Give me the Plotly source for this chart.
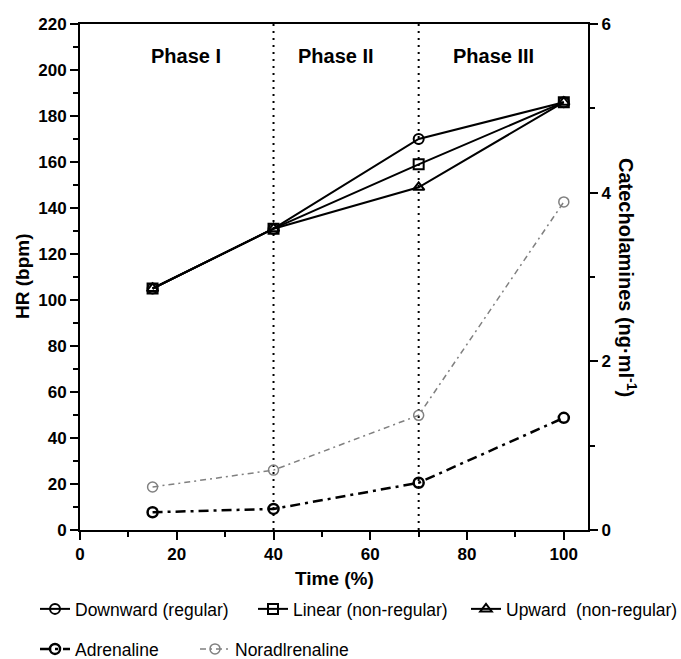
import plotly.graph_objects as go

# ---- data ----
time_pct = [15, 40, 70, 100]
hr_downward = [105, 131, 170, 186]
hr_linear = [105, 131, 159, 186]
hr_upward = [105, 131, 149, 186]
adrenaline = [0.21, 0.25, 0.56, 1.33]
noradrenaline = [0.51, 0.71, 1.36, 3.89]
phase_labels = ["Phase I", "Phase II", "Phase III"]
phase_x = [22, 53, 85.5]
phase_bounds = [40, 70]

FONT = "Liberation Sans, Arial, sans-serif"
W, H = 681, 659

fig = go.Figure()

hr_series = [
    ("Downward (regular)", hr_downward, "circle-open", "legend"),
    ("Linear (non-regular)", hr_linear, "square-open", "legend2"),
    ("Upward\u00a0 (non-regular)", hr_upward, "triangle-up-open", "legend3"),
]
for name, vals, sym, lg in hr_series:
    fig.add_trace(go.Scatter(
        x=time_pct, y=vals, name=name, mode="lines+markers", yaxis="y",
        line=dict(color="black", width=2),
        marker=dict(symbol=sym, size=10, color="black", line=dict(width=2, color="black")),
        legend=lg, showlegend=True,
    ))

fig.add_trace(go.Scatter(
    x=time_pct, y=adrenaline, name="Adrenaline", mode="lines+markers", yaxis="y2",
    line=dict(color="black", width=2.5, dash="10px,5px,3px,5px"),
    marker=dict(symbol="circle-open", size=10, color="black", line=dict(width=2.5, color="black")),
    legend="legend4", showlegend=True,
))
fig.add_trace(go.Scatter(
    x=time_pct, y=noradrenaline, name="Noradlrenaline", mode="lines+markers", yaxis="y2",
    line=dict(color="#808080", width=1.5, dash="6px,4px,2px,4px"),
    marker=dict(symbol="circle-open", size=10, color="#808080", line=dict(width=1.5, color="#808080")),
    legend="legend5", showlegend=True,
))

for b in phase_bounds:
    fig.add_shape(type="line", xref="x", yref="paper", x0=b, x1=b, y0=0, y1=1,
                  line=dict(color="black", width=2, dash="2px,5px"), layer="below")

for lbl, px in zip(phase_labels, phase_x):
    fig.add_annotation(x=px, y=206, xref="x", yref="y", text=lbl, showarrow=False,
                       font=dict(family=FONT, size=20, color="black", weight="bold"))

# axis titles
fig.add_annotation(xref="paper", yref="paper", x=0, y=0.5, xshift=-58, text="HR (bpm)",
                   textangle=-90, showarrow=False, xanchor="center", yanchor="middle",
                   font=dict(family=FONT, size=19, color="black", weight="bold"))
fig.add_annotation(xref="paper", yref="paper", x=1, y=0.5, xshift=40,
                   text="Catecholamines (ng\u00b7ml<sup>-1</sup>)",
                   textangle=90, showarrow=False, xanchor="center", yanchor="middle",
                   font=dict(family=FONT, size=20, color="black", weight="bold"))
fig.add_annotation(xref="paper", yref="paper", x=0.5, y=0, yshift=-48, text="Time (%)",
                   showarrow=False, xanchor="center", yanchor="middle",
                   font=dict(family=FONT, size=19, color="black", weight="bold"))

tickfont = dict(family=FONT, size=17, color="black", weight="bold")
axis_common = dict(showgrid=False, zeroline=False, showline=True, linewidth=2, linecolor="black",
                   ticks="outside", ticklen=8, tickwidth=2, tickcolor="black", tickfont=tickfont)

fig.update_layout(
    width=W, height=H,
    showlegend=True,
    margin=dict(l=80, r=93, t=24, b=129),
    paper_bgcolor="white", plot_bgcolor="white",
    font=dict(family=FONT, color="black"),
    xaxis=dict(range=[0, 105], tick0=0, dtick=20, mirror=True,
               minor=dict(ticks="outside", ticklen=5, tickwidth=2, tickcolor="black", dtick=10, showgrid=False),
               **axis_common),
    yaxis=dict(range=[0, 220], tick0=0, dtick=20,
               minor=dict(ticks="outside", ticklen=5, tickwidth=2, tickcolor="black", dtick=10, showgrid=False),
               **axis_common),
    yaxis2=dict(range=[0, 6], tick0=0, dtick=2, overlaying="y", side="right",
                minor=dict(ticks="outside", ticklen=5, tickwidth=2, tickcolor="black", dtick=1, showgrid=False),
                **axis_common),
)

leg_font = dict(family=FONT, size=17.5, color="black")
leg_pos = {"legend": (35, 609), "legend2": (253, 609), "legend3": (466, 609),
           "legend4": (35, 649), "legend5": (195, 649)}
for key, (lx, ly) in leg_pos.items():
    fig.update_layout({key: dict(xref="container", yref="container", x=lx / W, y=1 - ly / H,
                                 xanchor="left", yanchor="middle", orientation="h",
                                 bgcolor="rgba(0,0,0,0)", borderwidth=0, font=leg_font,
                                 visible=True)})

fig.write_html("out.html")
